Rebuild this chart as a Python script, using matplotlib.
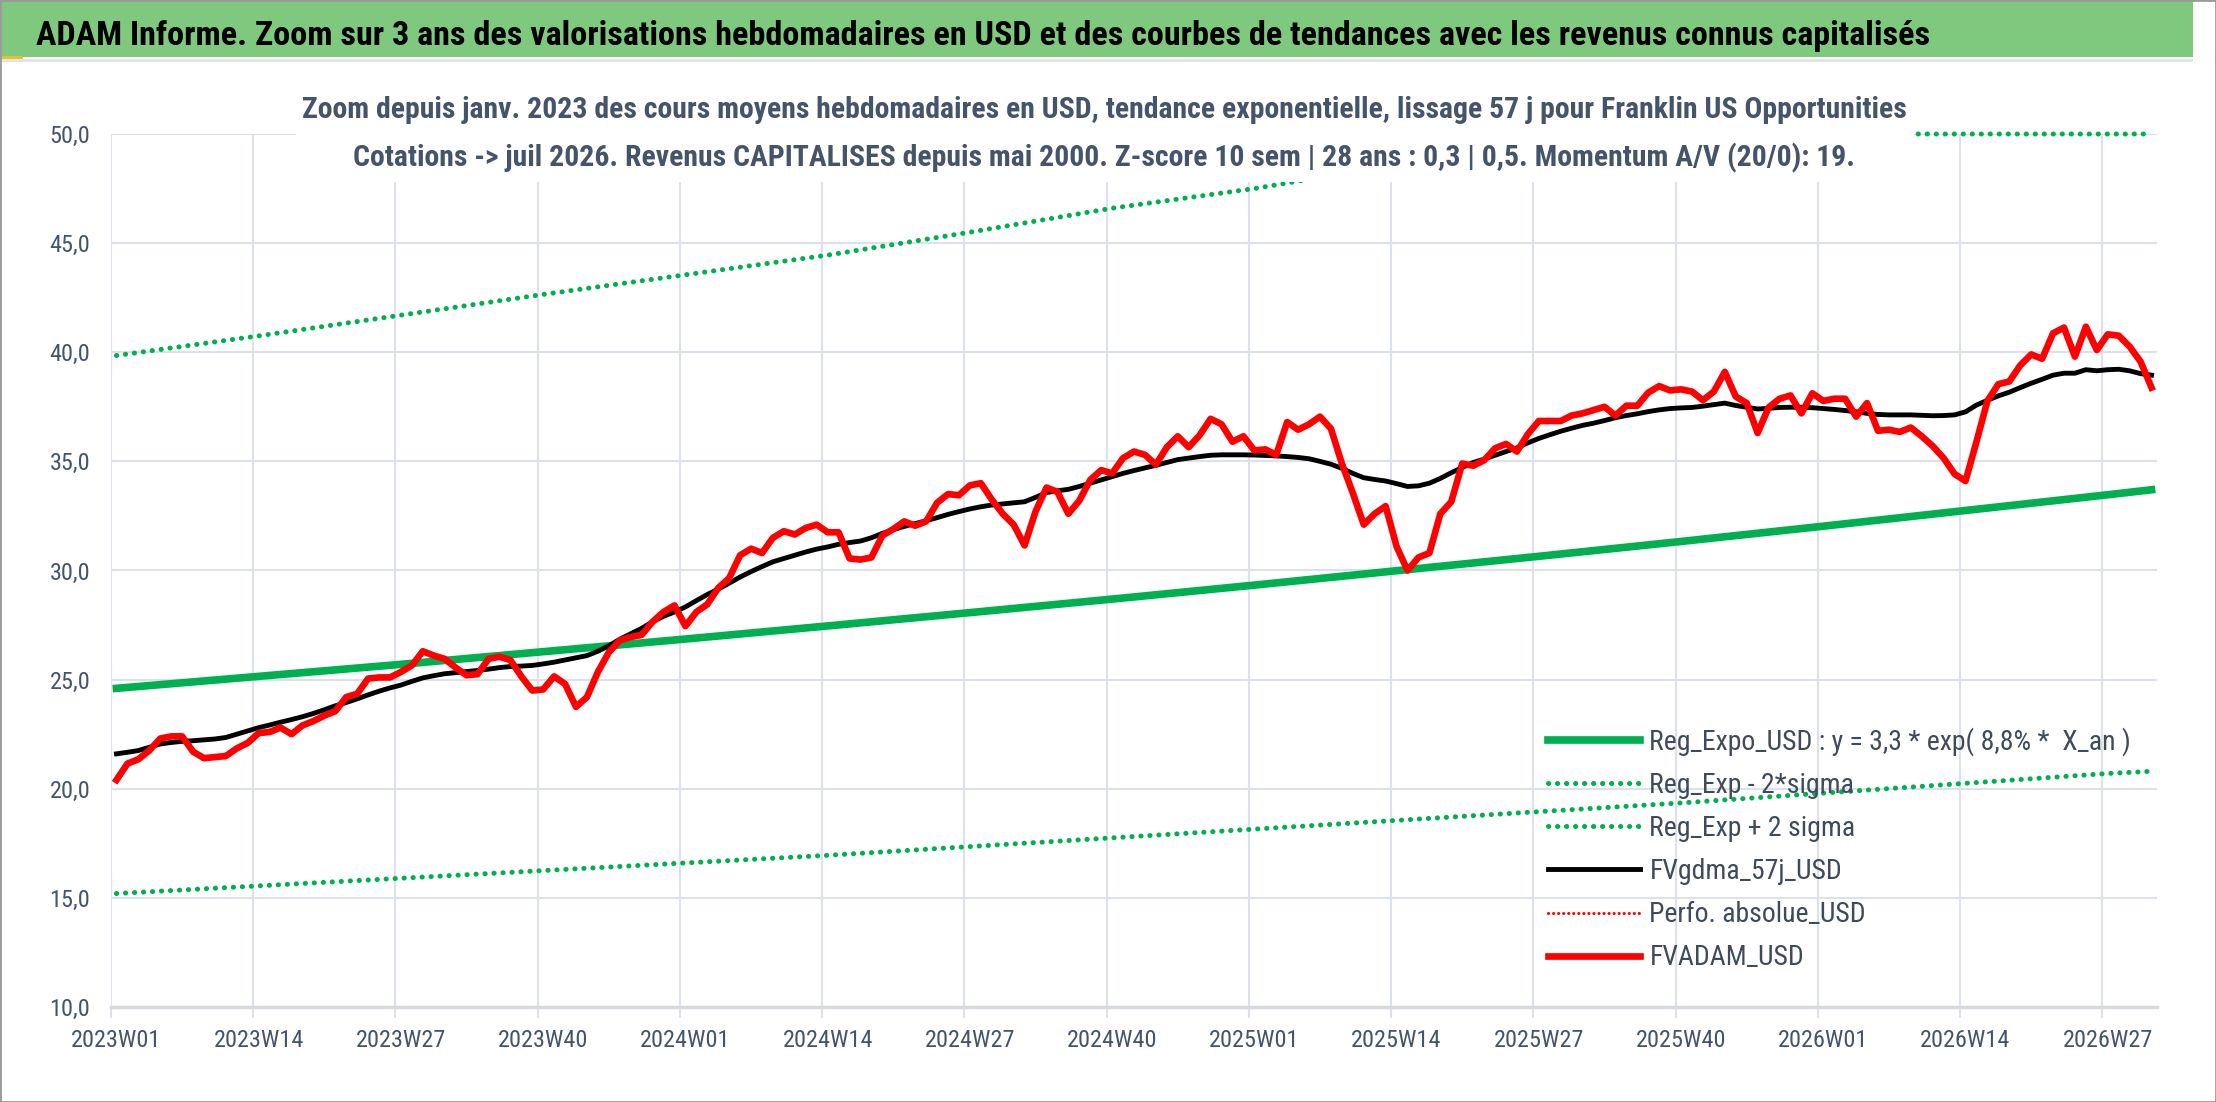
import numpy as np
import matplotlib
matplotlib.use('Agg')
import matplotlib.pyplot as plt
from matplotlib import font_manager
from matplotlib.patches import Rectangle

# ---- données (une valeur par semaine, 2023W01 -> 2026W31)
fvadam_usd = [
    20.40, 21.15, 21.35, 21.75, 22.30, 22.40, 22.40, 21.70, 21.40, 21.45,
    21.50, 21.85, 22.10, 22.55, 22.60, 22.80, 22.50, 22.90, 23.10, 23.35,
    23.55, 24.20, 24.35, 25.05, 25.10, 25.10, 25.35, 25.65, 26.30, 26.10,
    25.95, 25.55, 25.20, 25.25, 25.95, 26.05, 25.90, 25.15, 24.50, 24.55,
    25.15, 24.80, 23.75, 24.20, 25.35, 26.25, 26.80, 26.95, 27.05, 27.65,
    28.10, 28.40, 27.45, 28.10, 28.45, 29.20, 29.65, 30.70, 31.00, 30.80,
    31.50, 31.80, 31.65, 31.95, 32.10, 31.75, 31.75, 30.55, 30.50, 30.60,
    31.60, 31.90, 32.25, 32.05, 32.25, 33.10, 33.50, 33.45, 33.90, 34.00,
    33.25, 32.60, 32.10, 31.15, 32.70, 33.80, 33.60, 32.60, 33.20, 34.15,
    34.60, 34.45, 35.15, 35.45, 35.30, 34.85, 35.65, 36.15, 35.65, 36.20,
    36.95, 36.70, 35.90, 36.15, 35.50, 35.55, 35.30, 36.80, 36.45, 36.70,
    37.05, 36.50, 34.90, 33.55, 32.10, 32.60, 32.95, 31.10, 30.00, 30.60,
    30.80, 32.60, 33.15, 34.90, 34.80, 35.05, 35.60, 35.80, 35.45, 36.25,
    36.85, 36.85, 36.85, 37.10, 37.20, 37.35, 37.50, 37.10, 37.55, 37.55,
    38.15, 38.45, 38.25, 38.30, 38.20, 37.80, 38.20, 39.10, 37.97, 37.67,
    36.30, 37.47, 37.87, 38.02, 37.20, 38.12, 37.77, 37.87, 37.87, 37.05,
    37.67, 36.40, 36.45, 36.35, 36.55, 36.15, 35.70, 35.15, 34.42, 34.10,
    35.90, 37.77, 38.54, 38.66, 39.40, 39.90, 39.70, 40.87, 41.13, 39.80,
    41.17, 40.10, 40.82, 40.76, 40.26, 39.57, 38.38,
]

fvgdma_57j_usd = [
    21.60, 21.67, 21.75, 21.90, 22.05, 22.12, 22.17, 22.20, 22.24, 22.28,
    22.35, 22.50, 22.65, 22.80, 22.92, 23.05, 23.17, 23.30, 23.45, 23.62,
    23.80, 23.95, 24.12, 24.30, 24.47, 24.62, 24.75, 24.92, 25.08, 25.18,
    25.27, 25.32, 25.37, 25.42, 25.48, 25.55, 25.60, 25.62, 25.65, 25.72,
    25.80, 25.90, 26.00, 26.10, 26.30, 26.55, 26.85, 27.10, 27.35, 27.65,
    27.90, 28.10, 28.33, 28.62, 28.90, 29.15, 29.42, 29.70, 29.95, 30.18,
    30.40, 30.55, 30.70, 30.85, 30.98, 31.08, 31.20, 31.28, 31.35, 31.50,
    31.70, 31.87, 32.02, 32.15, 32.28, 32.42, 32.57, 32.70, 32.82, 32.92,
    33.00, 33.05, 33.10, 33.15, 33.35, 33.57, 33.65, 33.72, 33.85, 34.00,
    34.15, 34.30, 34.45, 34.58, 34.70, 34.82, 34.95, 35.08, 35.15, 35.22,
    35.28, 35.30, 35.30, 35.30, 35.29, 35.27, 35.25, 35.22, 35.18, 35.12,
    35.00, 34.87, 34.68, 34.45, 34.25, 34.17, 34.10, 33.98, 33.85, 33.88,
    34.00, 34.22, 34.48, 34.72, 34.95, 35.10, 35.28, 35.45, 35.62, 35.85,
    36.05, 36.22, 36.38, 36.52, 36.65, 36.75, 36.87, 37.00, 37.10, 37.18,
    37.28, 37.36, 37.42, 37.45, 37.47, 37.53, 37.60, 37.67, 37.56, 37.48,
    37.40, 37.43, 37.47, 37.48, 37.48, 37.46, 37.42, 37.38, 37.33, 37.27,
    37.20, 37.15, 37.13, 37.13, 37.13, 37.11, 37.09, 37.10, 37.13, 37.27,
    37.58, 37.80, 38.00, 38.17, 38.38, 38.58, 38.76, 38.95, 39.04, 39.04,
    39.20, 39.15, 39.20, 39.22, 39.15, 39.02, 38.95,
]

# courbes de tendance lues aux semaines des graduations
reg_weeks = [0, 13, 26, 39, 52, 65, 78, 91, 104, 117, 130, 143, 156, 169, 182, 186]
reg_expo_usd = [24.60, 25.15, 25.70, 26.28, 26.86, 27.46, 28.07, 28.69, 29.33,
                29.99, 30.65, 31.33, 32.03, 32.75, 33.47, 33.70]
reg_moins_2sigma = [15.20, 15.55, 15.90, 16.25, 16.60, 16.95, 17.35, 17.75, 18.15,
                    18.55, 18.95, 19.35, 19.80, 20.25, 20.70, 20.80]
reg_plus_2sigma = [39.85, 40.75, 41.70, 42.65, 43.55, 44.45, 45.50, 46.60, 47.50,
                   48.60, 49.65, 50.75, 51.90, 53.05, 54.20, 54.60]

tick_weeks = [0, 13, 26, 39, 52, 65, 78, 91, 104, 117, 130, 143, 156, 169, 182]
tick_labels = ['2023W01', '2023W14', '2023W27', '2023W40', '2024W01', '2024W14',
               '2024W27', '2024W40', '2025W01', '2025W14', '2025W27', '2025W40',
               '2026W01', '2026W14', '2026W27']

legend_labels = ['Reg_Expo_USD : y = 3,3 * exp( 8,8% *  X_an )',
                 'Reg_Exp - 2*sigma', 'Reg_Exp + 2 sigma', 'FVgdma_57j_USD',
                 'Perfo. absolue_USD', 'FVADAM_USD']

titre = ('ADAM Informe. Zoom sur 3 ans des valorisations hebdomadaires en USD '
         'et des courbes de tendances avec les revenus connus capitalisés')
sous_titre_1 = ('Zoom depuis janv. 2023 des cours moyens hebdomadaires en USD, '
                'tendance exponentielle, lissage 57 j pour Franklin US Opportunities')
sous_titre_2 = ('Cotations -> juil 2026. Revenus CAPITALISES depuis mai 2000. '
                'Z-score 10 sem | 28 ans : 0,3 | 0,5. Momentum A/V (20/0): 19.')

# ---- police étroite si disponible
noms = {f.name for f in font_manager.fontManager.ttflist}
etroite = next((n for n in ['Liberation Sans Narrow', 'Roboto Condensed',
                            'Open Sans Condensed', 'DejaVu Sans Condensed', 'Roboto']
                if n in noms), 'DejaVu Sans')
plt.rcParams['font.family'] = [etroite, 'DejaVu Sans']

W, H = 2216, 1102
vert = '#00b050'
gris_grille = '#dde2ea'
gris_texte = '#44546a'

fig = plt.figure(figsize=(W / 100, H / 100), dpi=100)
fig.patch.set_facecolor('white')

ax = fig.add_axes([111 / W, 1 - 1007 / H, (2157 - 111) / W, (1007 - 134) / H])
x = np.arange(len(fvadam_usd))

pointille = (0, (0.05, 1.75))
l_moins, = ax.plot(reg_weeks, reg_moins_2sigma, color=vert, lw=3.6, ls=pointille,
                   dash_capstyle='round', zorder=2)
l_plus, = ax.plot(reg_weeks, np.minimum(reg_plus_2sigma, 50), color=vert, lw=3.6,
                  ls=pointille, dash_capstyle='round', zorder=2, clip_on=False)
l_reg, = ax.plot(reg_weeks, reg_expo_usd, color=vert, lw=5.5, zorder=3)
l_gdma, = ax.plot(x, fvgdma_57j_usd, color='black', lw=3.5, zorder=4)
l_perfo, = ax.plot([], [], color='red', lw=2.2, ls=(0, (0.05, 1.6)),
                   dash_capstyle='round')
l_adam, = ax.plot(x, fvadam_usd, color='red', lw=4.8, zorder=5,
                  solid_joinstyle='round')

ax.set_xlim(-0.5, len(fvadam_usd) - 0.5)
ax.set_ylim(10, 50)
ax.set_xticks(tick_weeks)
ax.set_xticklabels(tick_labels)
ax.set_xticks([w - 0.5 for w in tick_weeks], minor=True)
ax.set_yticks(np.arange(10, 51, 5))
ax.set_yticklabels([f'{v:.1f}'.replace('.', ',') for v in np.arange(10, 51, 5)])

ax.grid(which='minor', axis='x', color=gris_grille, lw=1.5)
ax.grid(which='major', axis='y', color=gris_grille, lw=1.5)
ax.tick_params(axis='x', which='major', length=0, pad=16, labelsize=17.5,
               labelcolor=gris_texte)
ax.tick_params(axis='x', which='minor', length=8, width=1.5, color=gris_grille)
ax.tick_params(axis='y', length=0, pad=15, labelsize=17.5, labelcolor=gris_texte)
for s in ['top', 'right', 'left']:
    ax.spines[s].set_visible(False)
ax.spines['bottom'].set_color('#d6dae0')
ax.spines['bottom'].set_linewidth(2.5)
ax.set_axisbelow(True)

ax.legend([l_reg, l_moins, l_plus, l_gdma, l_perfo, l_adam], legend_labels,
          loc='upper left', bbox_to_anchor=(1548 / W, 1 - 727 / H),
          bbox_transform=fig.transFigure, frameon=False, fontsize=20,
          handlelength=3.3, handletextpad=0.35, labelspacing=0.58,
          borderpad=0, borderaxespad=0, labelcolor='#3f4a5a')

# ---- bandeau de titre et sous-titre
fig.add_artist(Rectangle((0, 1 - 57 / H), 2193 / W, 57 / H, transform=fig.transFigure,
                         facecolor='#7fc97f', edgecolor='none', zorder=1))
fig.add_artist(Rectangle((0, 1 - 62 / H), 2193 / W, 3 / H, transform=fig.transFigure,
                         facecolor='#e2e4e8', edgecolor='none', zorder=1))
fig.add_artist(Rectangle((0, 1 - 59 / H), 23 / W, 3 / H, transform=fig.transFigure,
                         facecolor='#f0c020', edgecolor='none', zorder=2))
t_titre = fig.text(36 / W, 1 - 45 / H, titre, ha='left', va='baseline',
                   fontsize=24, fontweight='bold', color='black', zorder=2)

fig.add_artist(Rectangle((296 / W, 1 - 182 / H), (1914 - 296) / W, (182 - 80) / H,
                         transform=fig.transFigure, facecolor='white',
                         edgecolor='none', zorder=5))
t_s1 = fig.text(1104 / W, 1 - 118 / H, sous_titre_1, ha='center', va='baseline',
                fontsize=20, fontweight='bold', color=gris_texte, zorder=6)
t_s2 = fig.text(1104 / W, 1 - 166 / H, sous_titre_2, ha='center', va='baseline',
                fontsize=20, fontweight='bold', color=gris_texte, zorder=6)

# ajuster la taille des textes à la largeur mesurée sur l'original
rend = fig.canvas.get_renderer()
for t, largeur in [(t_titre, 1896), (t_s1, 1599)]:
    bb = t.get_window_extent(rend)
    t.set_fontsize(t.get_fontsize() * largeur / bb.width)
t_s2.set_fontsize(t_s1.get_fontsize())

fig.add_artist(Rectangle((0, 0), 1, 1, transform=fig.transFigure, fill=False,
                         edgecolor='#9a9a9a', lw=2, zorder=10))

fig.savefig('out.png', dpi=100)
